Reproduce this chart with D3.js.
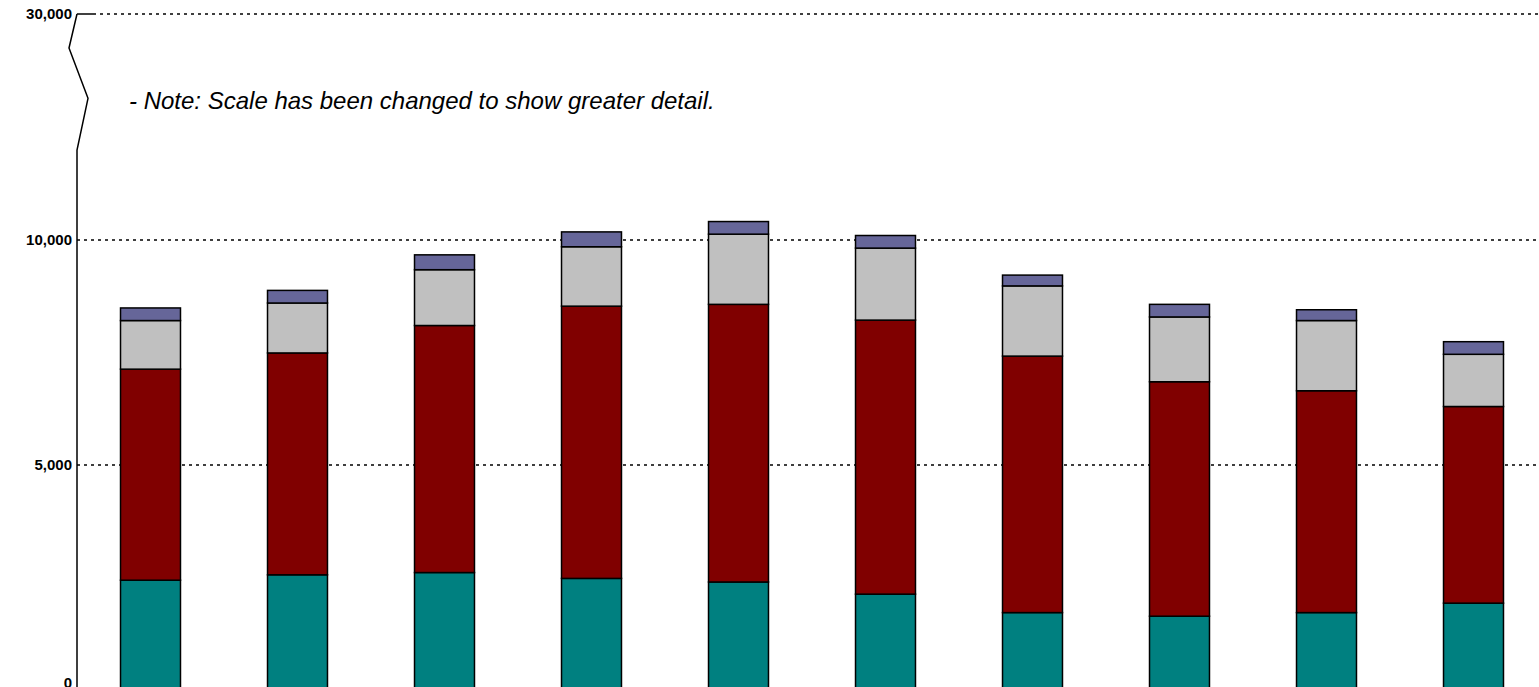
<!DOCTYPE html>
<html>
<head>
<meta charset="utf-8">
<script src="https://cdn.jsdelivr.net/npm/d3@7"></script>
<style>
  body { margin: 0; background: #fff; overflow: hidden; }
  text { font-family: "Liberation Sans", Arial, sans-serif; }
  .tick-label { font-weight: bold; font-size: 15px; }
  .note { font-style: italic; font-size: 24px; }
</style>
</head>
<body>
<div id="chart"></div>
<script>
var width = 1539,
    height = 687;

// data (stacked, bottom to top)
var categories = ["1", "2", "3", "4", "5", "6", "7", "8", "9", "10"];
var seriesNames = ["Series A", "Series B", "Series C", "Series D"];
var seriesA = [2440, 2560, 2610, 2480, 2400, 2130, 1720, 1640, 1720, 1930];
var seriesB = [4690, 4930, 5490, 6050, 6170, 6090, 5700, 5210, 4930, 4370];
var seriesC = [1080, 1110, 1240, 1320, 1560, 1600, 1560, 1440, 1560, 1160];
var seriesD = [280, 280, 330, 330, 280, 280, 240, 280, 240, 280];
var tickValues = [0, 5000, 10000, 30000];

var colors = ["#008080", "#800000", "#c0c0c0", "#666699"];

var rows = categories.map(function(c, i) {
  return {cat: c, "Series A": seriesA[i], "Series B": seriesB[i],
          "Series C": seriesC[i], "Series D": seriesD[i]};
});

var axisX = 77;

var svg = d3.select("#chart").append("svg")
  .attr("width", width)
  .attr("height", height);

// broken scale: linear up to 12,000 then squeezed up to 30,000
var y = d3.scaleLinear()
  .domain([0, 12000, 30000])
  .range([690, 150, 14]);

var x = d3.scaleBand()
  .domain(categories)
  .range([axisX, axisX + 1470])
  .paddingInner(0.592)
  .paddingOuter(0.296);

// grid lines (the top one starts past the zigzag)
svg.append("g").selectAll("line")
  .data(tickValues.filter(function(d) { return d > 0; }))
  .enter().append("line")
  .attr("x1", function(d) { return d > 12000 ? axisX + 16 : axisX; })
  .attr("x2", width)
  .attr("y1", function(d) { return y(d); })
  .attr("y2", function(d) { return y(d); })
  .attr("stroke", "#000")
  .attr("stroke-width", 1.5)
  .attr("stroke-dasharray", "3,4");

// short solid cap at the top of the axis
svg.append("line")
  .attr("x1", axisX)
  .attr("x2", axisX + 16)
  .attr("y1", y(30000))
  .attr("y2", y(30000))
  .attr("stroke", "#000")
  .attr("stroke-width", 1.5);

// bars
var stack = d3.stack().keys(seriesNames);
var layers = stack(rows);

svg.append("g").selectAll("g")
  .data(layers)
  .enter().append("g")
  .attr("fill", function(d, i) { return colors[i]; })
  .selectAll("rect")
  .data(function(d) { return d; })
  .enter().append("rect")
  .attr("x", function(d) { return x(d.data.cat); })
  .attr("width", x.bandwidth())
  .attr("y", function(d) { return y(d[1]); })
  .attr("height", function(d) { return y(d[0]) - y(d[1]); })
  .attr("stroke", "#000")
  .attr("stroke-width", 1.5);

// y axis with the break zigzag
var yTop = y(30000), yBrk = y(12000);
var span = yBrk - yTop;
var axisPts = [
  [axisX, y(0)],
  [axisX, yBrk],
  [axisX + 11, yBrk - span * 0.38],
  [axisX - 8, yBrk - span * 0.75],
  [axisX, yTop]
];
svg.append("path")
  .attr("d", d3.line()(axisPts))
  .attr("fill", "none")
  .attr("stroke", "#000")
  .attr("stroke-width", 1.5);

// tick labels
svg.append("g").selectAll("text")
  .data(tickValues)
  .enter().append("text")
  .attr("class", "tick-label")
  .attr("x", axisX - 5)
  .attr("y", function(d) { return d === 0 ? y(d) - 7 : y(d); })
  .attr("dy", "0.35em")
  .attr("text-anchor", "end")
  .text(d3.format(","));

svg.append("text")
  .attr("class", "note")
  .attr("x", 129)
  .attr("y", 109)
  .text("- Note: Scale has been changed to show greater detail.");
</script>
</body>
</html>
